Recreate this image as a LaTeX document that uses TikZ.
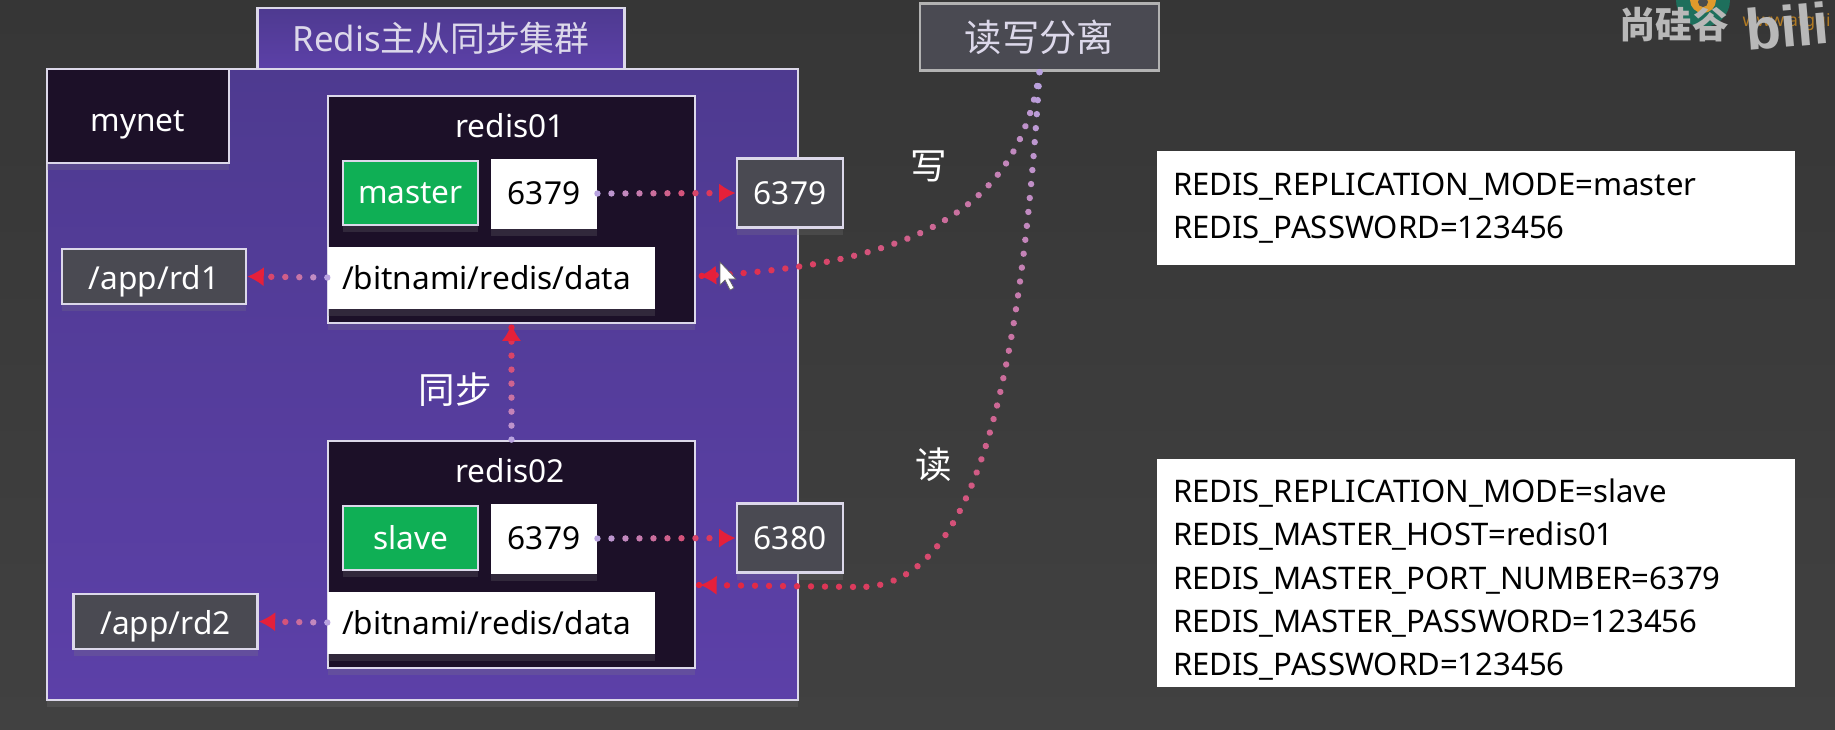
\documentclass[tikz,border=0pt]{standalone}
\usepackage{fontspec}
\setmainfont{Noto Sans}
\newfontfamily\cjk{Noto Sans CJK SC}
\newfontfamily\logofont{Liberation Sans}
\usetikzlibrary{arrows.meta, decorations.markings, shadows}

\definecolor{bgtop}{HTML}{363636}
\definecolor{bgbottom}{HTML}{414141}
\definecolor{nettop}{HTML}{4E3A90}
\definecolor{netbottom}{HTML}{5C40A8}
\definecolor{edgeline}{HTML}{DCD8EA}
\definecolor{darkbox}{HTML}{1C1028}
\definecolor{rolegreen}{HTML}{0FAF55}
\definecolor{greybox}{HTML}{4A4A52}
\definecolor{dotstart}{HTML}{B9A3E0}
\definecolor{dotend}{HTML}{E5203A}
\definecolor{markgreen}{HTML}{1E6F5C}
\definecolor{markorange}{HTML}{E09A2B}

\begin{document}
\begin{tikzpicture}[
        font=\fontsize{9pt}{12.6pt}\selectfont,
        softshadow/.style={drop shadow={shadow xshift=0pt, shadow yshift=-2pt, opacity=0.22}},
        netbox/.style={draw=edgeline, line width=0.8pt, top color=nettop, bottom color=netbottom, inner sep=0pt},
        darkrect/.style={draw=edgeline, line width=0.8pt, fill=darkbox, text=white, inner sep=0pt, softshadow},
        rolebox/.style={draw=edgeline, line width=0.7pt, fill=rolegreen, text=white, inner sep=0pt, softshadow},
        whitebox/.style={fill=white, text=black, inner sep=0pt, softshadow},
        hostbox/.style={draw=edgeline, line width=0.8pt, fill=greybox, text=white, inner sep=0pt, softshadow},
        rwbox/.style={draw=black!30, line width=0.8pt, fill=greybox, text=edgeline, inner sep=0pt},
        envbox/.style={fill=white, text=black, inner sep=0pt, minimum width=6.38cm, text width=6.06cm, align=left, font=\fontsize{8.85pt}{12.3pt}\selectfont},
        tag/.style={text=white, inner sep=0pt},
        bigtag/.style={tag, font=\fontsize{10.4pt}{12pt}\selectfont\cjk},
        dotline/.style={decoration={markings,
            mark=between positions 0 and 1 step 0.14cm with {
                \pgfmathsetmacro{\pct}{\pgfkeysvalueof{/pgf/decoration/mark info/distance from start}/\pgfdecoratedpathlength*100}
                \fill[dotend!\pct!dotstart] (0,0) circle (0.032cm);},
            mark=at position 0.998 with {\arrow[dotend]{Latex[length=4.6pt,width=5.4pt]}}},
            postaction={decorate}},
    ]

        % Page and the clip for the cut-off logo
        \clip (0,0) rectangle (18.35,-7.29);
        \useasboundingbox (0,0) rectangle (18.35,-7.29);
        \shade[top color=bgtop, bottom color=bgbottom] (0,0) rectangle (18.35,-7.29);

        % Draw the network box
        \node[netbox, softshadow, minimum width=7.51cm, minimum height=6.31cm] (net) at (4.225,-3.845) {};
        \node[netbox, minimum width=3.665cm, minimum height=0.61cm, text=edgeline, font=\fontsize{9.9pt}{12pt}\selectfont] (title) at (4.41,-0.385) {Redis{\cjk 主从同步集群}};
        \node[darkrect, minimum width=1.82cm, minimum height=0.94cm, text height=8.6pt, text depth=0pt] (mynet) at (1.38,-1.16) {mynet};

        % Draw the two containers
        \foreach \name / \y / \role / \host / \dirx in {1/0/master/6379/1.54, 2/3.45/slave/6380/1.655} {
            \node[darkrect, minimum width=3.67cm, minimum height=2.27cm] (R-\name) at (5.115,-2.095-\y) {};
            \node[tag] (N-\name) at (5.10,-1.26-\y) {redis0\name};
            \node[rolebox, minimum width=1.35cm, minimum height=0.64cm] (M-\name) at (4.105,-1.93-\y) {\role};
            \node[whitebox, minimum width=1.055cm, minimum height=0.7cm] (P-\name) at (5.44,-1.935-\y) {6379};
            \node[hostbox, minimum width=1.06cm, minimum height=0.69cm] (H-\name) at (7.90,-1.93-\y) {\host};
            \node[whitebox, minimum width=3.27cm, minimum height=0.62cm] (D-\name) at (4.915,-2.775-\y) {\hspace{-0.1cm}/bitnami/redis/data};
            \node[hostbox, minimum width=1.84cm, minimum height=0.55cm, text height=7.4pt, text depth=0pt] (V-\name) at (\dirx,-2.765-\y) {/app/rd\name};
        }

        % Connect the ports and the volumes
        \foreach \name in {1,2} {
            \path[dotline] (P-\name.east) -- (H-\name.west);
            \path[dotline] (D-\name.west) -- (V-\name.east);
        }
        \path[dotline] (R-2.north) -- (R-1.south);

        % Draw the read/write box and its two curves
        \node[rwbox, minimum width=2.39cm, minimum height=0.675cm, font=\fontsize{10.6pt}{12pt}\selectfont] (rw) at (10.395,-0.37) {{\cjk 读写分离}};
        \coordinate (write-end) at (6.99,-2.76);
        \coordinate (read-end) at (6.99,-5.85);
        \path[dotline] (rw.south) .. controls (10.2,-2.0) and (9.3,-2.65) .. (write-end);
        \path[dotline] (rw.south) .. controls (10.2,-4.0) and (9.7,-5.87) .. (8.6,-5.87) -- (read-end);

        \node[bigtag] (write) at (9.29,-1.66) {写};
        \node[bigtag] (read) at (9.34,-4.65) {读};
        \node[bigtag] (sync) at (4.55,-3.90) {同步};

        % Draw the environment boxes
        \node[envbox, minimum height=1.14cm] (env-1) at (14.76,-2.08) {REDIS\_REPLICATION\_MODE=master\\REDIS\_PASSWORD=123456};
        \node[envbox, minimum height=2.28cm] (env-2) at (14.76,-5.73) {\rule{0pt}{10.5pt}REDIS\_REPLICATION\_MODE=slave\\REDIS\_MASTER\_HOST=redis01\\REDIS\_MASTER\_PORT\_NUMBER=6379\\REDIS\_MASTER\_PASSWORD=123456\\REDIS\_PASSWORD=123456};

        % Mouse pointer
        \fill[white, draw=black!60, line width=0.2pt] (7.20,-2.62) -- (7.20,-2.85) -- (7.25,-2.80) -- (7.30,-2.90) -- (7.34,-2.88) -- (7.29,-2.79) -- (7.36,-2.79) -- cycle;

        % Watermark in the corner
        \fill[markgreen] (17.03,0) circle (0.27);
        \fill[markorange] (17.03,0) circle (0.13);
        \fill[black!70] (17.03,-0.02) circle (0.05);
        \node[text=markorange!80!black, inner sep=0pt, anchor=west] (site) at (17.42,-0.22) {\fontsize{5pt}{6pt}\selectfont www.atgui};
        \node[text=black!28, inner sep=0pt] (brand) at (16.74,-0.25) {\fontsize{10.4pt}{12pt}\selectfont\cjk\bfseries 尚硅谷};
        \node[text=black!28, inner sep=0pt, anchor=west, rotate=5] (bili) at (17.45,-0.30) {\fontsize{16.5pt}{20pt}\selectfont\logofont\bfseries bili};

\end{tikzpicture}
\end{document}
